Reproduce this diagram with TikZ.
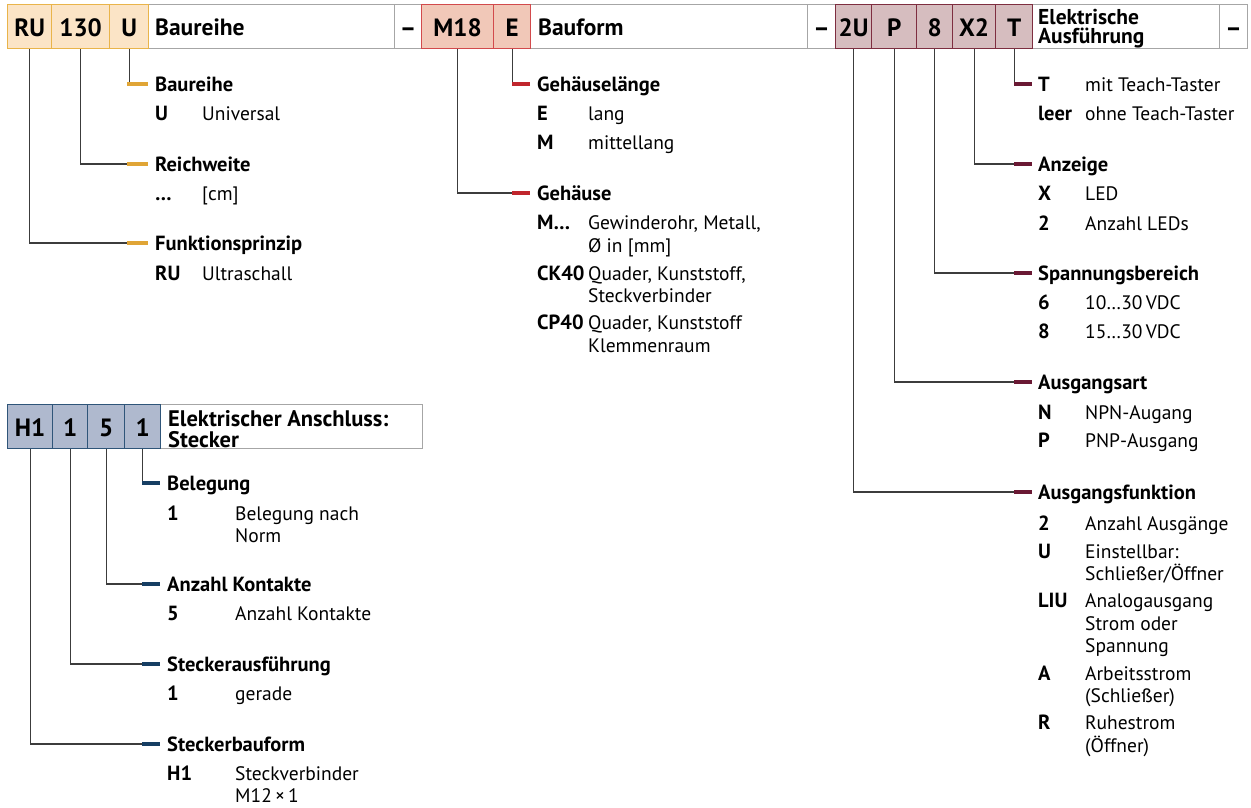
\documentclass[tikz,border=0pt]{standalone}
\usepackage{fontspec}
\setmainfont{PT Sans}
\definecolor{oFill}{HTML}{FBE4C6}
\definecolor{oLine}{HTML}{E9B44A}
\definecolor{oTick}{HTML}{E0A536}
\definecolor{rFill}{HTML}{F1C8B8}
\definecolor{rLine}{HTML}{D24A4C}
\definecolor{rTick}{HTML}{C0262D}
\definecolor{mFill}{HTML}{D6BDBF}
\definecolor{mLine}{HTML}{7E2E40}
\definecolor{mTick}{HTML}{6A1934}
\definecolor{bFill}{HTML}{AFB9CE}
\definecolor{bLine}{HTML}{2F5579}
\definecolor{bTick}{HTML}{163E63}
\definecolor{gLine}{HTML}{A6A6A6}
\definecolor{cLine}{HTML}{3C3C3C}
\tikzset{
  cellbase/.style={anchor=north west, inner sep=0pt, minimum height=44pt, line width=1.3pt,
    text height=19pt, text depth=0pt, font=\fontsize{25}{28}\selectfont\bfseries},
  gcell/.style={cellbase, draw=gLine, fill=white},
  ocell/.style={cellbase, draw=oLine, fill=oFill},
  rcell/.style={cellbase, draw=rLine, fill=rFill},
  mcell/.style={cellbase, draw=mLine, fill=mFill},
  bcell/.style={cellbase, draw=bLine, fill=bFill},
  celltext/.style={anchor=base west, inner sep=0pt, font=\fontsize{23.5}{26}\selectfont\bfseries},
  cellsmall/.style={anchor=base west, inner sep=0pt, font=\fontsize{21.5}{22}\selectfont\bfseries},
  cellmid/.style={anchor=base west, inner sep=0pt, font=\fontsize{22.5}{23}\selectfont\bfseries},
  conn/.style={draw=cLine, line width=1.1pt},
  otick/.style={draw=oTick, line width=4pt},
  rtick/.style={draw=rTick, line width=4pt},
  mtick/.style={draw=mTick, line width=4pt},
  btick/.style={draw=bTick, line width=4pt},
  lab/.style={anchor=base west, inner sep=0pt, font=\fontsize{20.5}{24}\selectfont\bfseries},
  key/.style={anchor=base west, inner sep=0pt, font=\fontsize{20.5}{24}\selectfont\bfseries},
  desc/.style={anchor=base west, inner sep=0pt, font=\fontsize{19.5}{24}\selectfont},
}
\newcommand\ent[6]{\node[key] (#1k) at (#2,#4) {#5}; \node[desc] (#1d) at (#3,#4) {#6};}
\newcommand\cont[4]{\node[desc] (#1) at (#2,#3) {#4};}
\begin{document}
\begin{tikzpicture}[x=1pt,y=-1pt]
\useasboundingbox[fill=white] (0,0) rectangle (1251,807);

% ---------- top bar ----------
\node[gcell, minimum width=246pt] (cBau) at (148,4) {};
\node[gcell, minimum width=27pt] (cD1) at (394,4) {–};
\node[gcell, minimum width=277pt] (cBf) at (530,4) {};
\node[gcell, minimum width=28pt] (cD2) at (807,4) {–};
\node[gcell, minimum width=187pt] (cEA) at (1032,4) {};
\node[gcell, minimum width=28pt] (cD3) at (1219,4) {–};

\node[ocell, minimum width=44pt] (cRU) at (7,4) {RU};
\node[ocell, minimum width=58pt] (c130) at (51,4) {130};
\node[ocell, minimum width=39pt] (cU) at (109,4) {U};
\node[rcell, minimum width=72pt] (cM18) at (421,4) {M18};
\node[rcell, minimum width=37pt] (cE) at (493,4) {E};
\node[mcell, minimum width=36pt] (c2U) at (835,4) {2U};
\node[mcell, minimum width=45pt] (cP) at (871,4) {P};
\node[mcell, minimum width=36pt] (c8) at (916,4) {8};
\node[mcell, minimum width=43pt] (cX2) at (952,4) {X2};
\node[mcell, minimum width=37pt] (cT) at (995,4) {T};

\node[celltext] (tBau) at ([shift={(7,9)}]cBau.west) {Baureihe};
\node[celltext] (tBf) at ([shift={(8,9)}]cBf.west) {Bauform};
\node[cellsmall] (tEA1) at ([shift={(6,-2.5)}]cEA.west) {Elektrische};
\node[cellsmall] (tEA2) at ([shift={(6,17)}]cEA.west) {Ausführung};

% ---------- left group ----------
\coordinate (aU) at (127,84);
\coordinate (a130) at (127,164);
\coordinate (aRU) at (127,243);
\draw[conn] (cU.south) |- (aU);
\draw[conn] (c130.south) |- (a130);
\draw[conn] (cRU.south) |- (aRU);
\draw[otick] (aU) -- ++(21,0) coordinate (bU);
\draw[otick] (a130) -- ++(21,0) coordinate (b130);
\draw[otick] (aRU) -- ++(21,0) coordinate (bRU);
\node[lab] (lU) at ([shift={(7,7)}]bU) {Baureihe};
\node[lab] (l130) at ([shift={(7,7)}]b130) {Reichweite};
\node[lab] (lRU) at ([shift={(7,7)}]bRU) {Funktionsprinzip};
\ent{eU}{155}{202}{120}{U}{Universal}
\ent{eCm}{155}{202}{200}{…}{[cm]}
\ent{eRU}{155}{202}{280}{RU}{Ultraschall}

% ---------- middle group ----------
\coordinate (aE) at (512,84);
\coordinate (aM18) at (512,193);
\draw[conn] (cE.south) |- (aE);
\draw[conn] (cM18.south) |- (aM18);
\draw[rtick] (aE) -- ++(18,0) coordinate (bE);
\draw[rtick] (aM18) -- ++(18,0) coordinate (bM18);
\node[lab] (lE) at ([shift={(7,7)}]bE) {Gehäuselänge};
\node[lab] (lM18) at ([shift={(7,7)}]bM18) {Gehäuse};
\ent{eE}{537}{588}{120}{E}{lang}
\ent{eM}{537}{588}{149}{M}{mittellang}
\ent{eMx}{537}{588}{229}{M…}{Gewinderohr, Metall,}
\cont{eMx2}{588}{252}{Ø in [mm]}
\ent{eCK}{537}{588}{280}{CK40}{Quader, Kunststoff,}
\cont{eCK2}{588}{302}{Steckverbinder}
\ent{eCP}{537}{588}{329}{CP40}{Quader, Kunststoff}
\cont{eCP2}{588}{352}{Klemmenraum}

% ---------- right group ----------
\coordinate (aT) at (1014,84);
\coordinate (aX2) at (1014,164);
\coordinate (a8) at (1014,273);
\coordinate (aP) at (1014,382);
\coordinate (a2U) at (1014,492);
\draw[conn] (cT.south) |- (aT);
\draw[conn] (cX2.south) |- (aX2);
\draw[conn] (c8.south) |- (a8);
\draw[conn] (cP.south) |- (aP);
\draw[conn] (c2U.south) |- (a2U);
\draw[mtick] (aT) -- ++(18,0) coordinate (bT);
\draw[mtick] (aX2) -- ++(18,0) coordinate (bX2);
\draw[mtick] (a8) -- ++(18,0) coordinate (b8);
\draw[mtick] (aP) -- ++(18,0) coordinate (bP);
\draw[mtick] (a2U) -- ++(18,0) coordinate (b2U);
\node[key] (lT) at ([shift={(6,7)}]bT) {T};
\node[desc] (lTd) at (1085,91) {mit Teach-Taster};
\node[lab] (lX2) at ([shift={(6,7)}]bX2) {Anzeige};
\node[lab] (l8) at ([shift={(6,7)}]b8) {Spannungsbereich};
\node[lab] (lP) at ([shift={(6,7)}]bP) {Ausgangsart};
\node[lab] (l2U) at ([shift={(6,7)}]b2U) {Ausgangsfunktion};
\ent{eLeer}{1038}{1085}{120}{leer}{ohne Teach-Taster}
\ent{eX}{1038}{1085}{200}{X}{LED}
\ent{e2L}{1038}{1085}{230}{2}{Anzahl LEDs}
\ent{e6}{1038}{1085}{309}{6}{10…30\,VDC}
\ent{e8}{1038}{1085}{338}{8}{15…30\,VDC}
\ent{eN}{1038}{1085}{419}{N}{NPN-Augang}
\ent{ePp}{1038}{1085}{447}{P}{PNP-Ausgang}
\ent{e2A}{1038}{1085}{530}{2}{Anzahl Ausgänge}
\ent{eUe}{1038}{1085}{558}{U}{Einstellbar:}
\cont{eUe2}{1085}{580}{Schließer/Öffner}
\ent{eLIU}{1038}{1085}{607}{LIU}{Analogausgang}
\cont{eLIU2}{1085}{630}{Strom oder}
\cont{eLIU3}{1085}{652}{Spannung}
\ent{eA}{1038}{1085}{680}{A}{Arbeitsstrom}
\cont{eA2}{1085}{702}{(Schließer)}
\ent{eR}{1038}{1085}{729}{R}{Ruhestrom}
\cont{eR2}{1085}{752}{(Öffner)}

% ---------- bottom-left bar ----------
\node[gcell, minimum width=262pt] (cEL) at (160,404) {};
\node[bcell, minimum width=45pt] (cH1) at (7,404) {H1};
\node[bcell, minimum width=35pt] (cS1) at (52,404) {1};
\node[bcell, minimum width=37pt] (cS5) at (87,404) {5};
\node[bcell, minimum width=36pt] (cS1b) at (124,404) {1};
\node[cellmid] (tEL1) at ([shift={(8,0)}]cEL.west) {Elektrischer Anschluss:};
\node[cellmid] (tEL2) at ([shift={(8,20.5)}]cEL.west) {Stecker};

\coordinate (aBel) at (142,483);
\coordinate (aKon) at (142,584);
\coordinate (aSta) at (142,664);
\coordinate (aSbf) at (142,744);
\draw[conn] (cS1b.south) |- (aBel);
\draw[conn] (cS5.south) |- (aKon);
\draw[conn] (cS1.south) |- (aSta);
\draw[conn] (cH1.south) |- (aSbf);
\draw[btick] (aBel) -- ++(18,0) coordinate (bBel);
\draw[btick] (aKon) -- ++(18,0) coordinate (bKon);
\draw[btick] (aSta) -- ++(18,0) coordinate (bSta);
\draw[btick] (aSbf) -- ++(18,0) coordinate (bSbf);
\node[lab] (lBel) at ([shift={(7,7)}]bBel) {Belegung};
\node[lab] (lKon) at ([shift={(7,7)}]bKon) {Anzahl Kontakte};
\node[lab] (lSta) at ([shift={(7,7)}]bSta) {Steckerausführung};
\node[lab] (lSbf) at ([shift={(7,7)}]bSbf) {Steckerbauform};
\ent{eB1}{167}{235}{520}{1}{Belegung nach}
\cont{eB1b}{235}{542}{Norm}
\ent{eK5}{167}{235}{620}{5}{Anzahl Kontakte}
\ent{eG1}{167}{235}{700}{1}{gerade}
\ent{eH1}{167}{235}{780}{H1}{Steckverbinder}
\cont{eH1b}{235}{802}{M12\,×\,1}
\end{tikzpicture}
\end{document}
